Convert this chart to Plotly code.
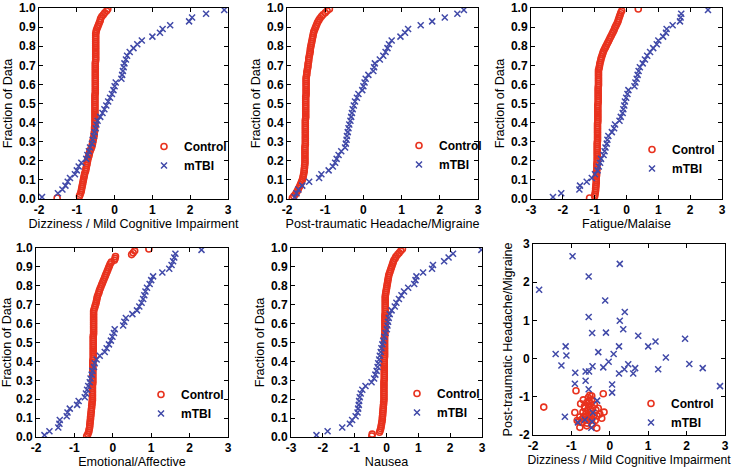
import plotly.graph_objects as go

W, H = 733, 471

# ---------------- data ----------------
x_ticks_a = [-2, -1, 0, 1, 2, 3]
x_ticks_b = [-3, -2, -1, 0, 1, 2, 3]
frac_ticks = [0.0, 0.1, 0.2, 0.3, 0.4, 0.5, 0.6, 0.7, 0.8, 0.9, 1.0]
scatter_y_ticks = [-2, -1, 0, 1, 2, 3]

axis_titles = ["Dizziness / Mild Cognitive Impairment", "Post-traumatic Headache/Migraine",
               "Fatigue/Malaise", "Emotional/Affective", "Nausea"]
y_title = "Fraction of Data"

diz_control = [-1.52, -0.93, -0.91, -0.89, -0.88, -0.87, -0.86, -0.85, -0.84, -0.83,
               -0.82, -0.81, -0.80, -0.79, -0.77, -0.76, -0.75, -0.74, -0.73, -0.72,
               -0.71, -0.70, -0.68, -0.67, -0.66, -0.64, -0.62, -0.60, -0.59, -0.58,
               -0.57, -0.56, -0.55, -0.54, -0.54, -0.53, -0.53, -0.53, -0.52, -0.52,
               -0.52, -0.52, -0.52, -0.52, -0.52, -0.52, -0.52, -0.52, -0.52, -0.52,
               -0.52, -0.52, -0.52, -0.52, -0.52, -0.51, -0.51, -0.51, -0.51, -0.51,
               -0.51, -0.51, -0.51, -0.51, -0.51, -0.51, -0.51, -0.51, -0.51, -0.51,
               -0.51, -0.51, -0.50, -0.50, -0.50, -0.50, -0.50, -0.50, -0.50, -0.50,
               -0.50, -0.50, -0.50, -0.50, -0.50, -0.50, -0.50, -0.49, -0.48, -0.46,
               -0.44, -0.42, -0.40, -0.38, -0.37, -0.34, -0.30, -0.26, -0.21, -0.18]
diz_mtbi = [-1.92, -1.50, -1.38, -1.30, -1.24, -1.18, -1.05, -1.00, -0.95, -0.88,
            -0.75, -0.72, -0.68, -0.65, -0.60, -0.58, -0.55, -0.53, -0.50, -0.48,
            -0.45, -0.38, -0.32, -0.27, -0.22, -0.17, -0.12, -0.07, -0.03, 0.00,
            0.03, 0.18, 0.20, 0.22, 0.24, 0.26, 0.30, 0.33, 0.40, 0.50,
            0.60, 0.72, 1.00, 1.20, 1.27, 1.47, 1.97, 2.05, 2.42, 2.90]

head_control = [-1.86, -1.82, -1.78, -1.75, -1.72, -1.70, -1.67, -1.65, -1.63, -1.61,
                -1.59, -1.58, -1.57, -1.56, -1.55, -1.55, -1.54, -1.54, -1.53, -1.53,
                -1.53, -1.53, -1.53, -1.53, -1.53, -1.53, -1.53, -1.53, -1.52, -1.52,
                -1.52, -1.52, -1.52, -1.52, -1.52, -1.52, -1.52, -1.52, -1.52, -1.52,
                -1.52, -1.52, -1.51, -1.51, -1.51, -1.51, -1.51, -1.51, -1.51, -1.51,
                -1.51, -1.51, -1.51, -1.51, -1.50, -1.50, -1.50, -1.50, -1.50, -1.50,
                -1.50, -1.50, -1.50, -1.50, -1.49, -1.48, -1.48, -1.47, -1.46, -1.45,
                -1.45, -1.44, -1.43, -1.43, -1.42, -1.41, -1.40, -1.39, -1.39, -1.38,
                -1.37, -1.36, -1.35, -1.34, -1.33, -1.32, -1.31, -1.30, -1.28, -1.26,
                -1.24, -1.22, -1.20, -1.17, -1.14, -1.10, -1.06, -1.00, -0.95, -0.89]
head_mtbi = [-1.80, -1.75, -1.70, -1.60, -1.42, -1.16, -1.10, -0.91, -0.80, -0.74,
             -0.70, -0.65, -0.58, -0.48, -0.46, -0.44, -0.43, -0.41, -0.39, -0.37,
             -0.34, -0.32, -0.30, -0.28, -0.25, -0.22, -0.17, -0.13, -0.03, 0.00,
             0.03, 0.06, 0.13, 0.26, 0.28, 0.30, 0.43, 0.52, 0.58, 0.63,
             0.67, 0.74, 0.97, 1.09, 1.17, 1.50, 1.80, 2.13, 2.46, 2.63]

fat_control = [-1.16, -1.00, -0.99, -0.98, -0.97, -0.97, -0.96, -0.96, -0.95, -0.95,
               -0.95, -0.95, -0.94, -0.94, -0.94, -0.93, -0.93, -0.93, -0.93, -0.92,
               -0.92, -0.92, -0.92, -0.92, -0.92, -0.92, -0.92, -0.92, -0.92, -0.92,
               -0.91, -0.91, -0.91, -0.91, -0.91, -0.91, -0.91, -0.91, -0.91, -0.91,
               -0.90, -0.90, -0.90, -0.90, -0.90, -0.90, -0.90, -0.90, -0.90, -0.90,
               -0.89, -0.89, -0.89, -0.89, -0.89, -0.89, -0.89, -0.89, -0.89, -0.88,
               -0.88, -0.88, -0.88, -0.88, -0.88, -0.88, -0.88, -0.88, -0.86, -0.85,
               -0.84, -0.83, -0.81, -0.80, -0.78, -0.76, -0.74, -0.72, -0.69, -0.66,
               -0.63, -0.60, -0.57, -0.54, -0.51, -0.48, -0.45, -0.42, -0.39, -0.37,
               -0.34, -0.31, -0.28, -0.26, -0.24, -0.22, -0.20, -0.18, -0.15, 0.37]
fat_mtbi = [-2.31, -2.05, -1.48, -1.46, -1.25, -1.09, -0.99, -0.91, -0.87, -0.83,
            -0.80, -0.72, -0.69, -0.66, -0.62, -0.60, -0.57, -0.46, -0.39, -0.36,
            -0.22, -0.18, -0.12, -0.10, -0.07, -0.05, -0.01, 0.03, 0.06, 0.25,
            0.28, 0.32, 0.35, 0.38, 0.42, 0.51, 0.58, 0.65, 0.74, 0.84,
            0.95, 1.00, 1.15, 1.24, 1.26, 1.45, 1.68, 1.70, 1.72, 2.56]

emo_control = [-0.68, -0.65, -0.63, -0.62, -0.61, -0.60, -0.60, -0.59, -0.59, -0.58,
               -0.58, -0.57, -0.57, -0.56, -0.56, -0.55, -0.55, -0.54, -0.54, -0.53,
               -0.53, -0.53, -0.53, -0.53, -0.53, -0.53, -0.53, -0.53, -0.52, -0.52,
               -0.52, -0.52, -0.52, -0.52, -0.52, -0.52, -0.52, -0.52, -0.52, -0.52,
               -0.52, -0.51, -0.51, -0.51, -0.51, -0.51, -0.51, -0.51, -0.51, -0.51,
               -0.51, -0.51, -0.51, -0.51, -0.50, -0.50, -0.50, -0.50, -0.50, -0.50,
               -0.50, -0.50, -0.50, -0.50, -0.50, -0.50, -0.50, -0.49, -0.47, -0.46,
               -0.44, -0.43, -0.42, -0.41, -0.40, -0.38, -0.36, -0.35, -0.33, -0.31,
               -0.29, -0.27, -0.25, -0.23, -0.21, -0.19, -0.17, -0.15, -0.13, -0.11,
               -0.09, -0.07, -0.04, 0.04, 0.06, 0.07, 0.49, 0.53, 0.57, 0.94]
emo_mtbi = [-1.78, -1.65, -1.42, -1.39, -1.38, -1.20, -1.18, -1.12, -0.93, -0.89,
            -0.73, -0.70, -0.67, -0.64, -0.60, -0.58, -0.55, -0.53, -0.49, -0.47,
            -0.42, -0.34, -0.21, -0.16, -0.10, -0.05, -0.01, 0.03, 0.05, 0.27,
            0.30, 0.34, 0.51, 0.63, 0.69, 0.75, 0.79, 0.82, 0.85, 0.89,
            0.96, 1.00, 1.05, 1.29, 1.47, 1.53, 1.57, 1.60, 1.63, 2.31]

nau_control = [-0.46, -0.45, -0.22, -0.20, -0.18, -0.17, -0.16, -0.15, -0.14, -0.13,
               -0.13, -0.12, -0.12, -0.11, -0.11, -0.10, -0.10, -0.09, -0.09, -0.08,
               -0.08, -0.08, -0.08, -0.08, -0.08, -0.08, -0.08, -0.08, -0.08, -0.08,
               -0.07, -0.07, -0.07, -0.07, -0.07, -0.07, -0.07, -0.07, -0.07, -0.07,
               -0.07, -0.07, -0.06, -0.06, -0.06, -0.06, -0.06, -0.06, -0.06, -0.06,
               -0.06, -0.06, -0.06, -0.06, -0.05, -0.05, -0.05, -0.05, -0.05, -0.05,
               -0.05, -0.05, -0.05, -0.05, -0.05, -0.04, -0.04, -0.04, -0.04, -0.04,
               -0.04, -0.04, -0.04, -0.04, -0.04, -0.03, -0.02, -0.01, 0.00, 0.01,
               0.02, 0.03, 0.04, 0.05, 0.06, 0.07, 0.09, 0.11, 0.13, 0.15,
               0.17, 0.19, 0.21, 0.23, 0.27, 0.30, 0.35, 0.40, 0.45, 0.50]
nau_mtbi = [-2.20, -1.85, -1.39, -1.15, -1.08, -0.97, -0.91, -0.89, -0.87, -0.86,
            -0.84, -0.81, -0.76, -0.66, -0.47, -0.39, -0.35, -0.31, -0.28, -0.26,
            -0.23, -0.21, -0.18, -0.16, -0.13, -0.10, -0.07, -0.03, 0.01, 0.03,
            0.05, 0.07, 0.10, 0.16, 0.26, 0.31, 0.39, 0.47, 0.55, 0.68,
            0.87, 0.91, 0.94, 1.15, 1.43, 1.46, 1.81, 1.95, 2.09, 2.98]

# scatter: dizziness (x) vs headache (y)
sc_mtbi_x = [-0.97, 0.26, -0.55, -1.84, -0.12, 0.39, -0.55, 0.26, 0.35, -0.46,
             -0.10, 0.74, 1.96, 1.19, -1.15, 0.24, 1.00, -1.41, -1.13, -0.30,
             0.10, -0.03, 1.46, -1.26, 0.48, 2.07, -0.17, -0.45, 2.42, 1.26,
             0.38, 0.66, 0.24, 0.61, -0.90, -0.63, -0.54, -0.91, -0.63, -0.55,
             0.06, 0.06, 2.87, -0.33, -0.44, -0.46, -0.65, -0.83, -1.17, -0.48]
sc_mtbi_y = [2.68, 2.48, 2.15, 1.80, 1.52, 1.22, 1.09, 0.99, 0.77, 0.67,
             0.68, 0.60, 0.52, 0.45, 0.32, 0.32, 0.32, 0.12, 0.08, 0.17,
             0.12, -0.08, 0.03, -0.18, -0.15, -0.14, -0.23, -0.20, -0.25, -0.28,
             -0.28, -0.25, -0.39, -0.39, -0.37, -0.34, -0.34, -0.66, -0.58, -0.80,
             -0.68, -0.89, -0.72, -1.10, -1.42, -1.65, -1.60, -1.67, -1.52, -1.81]
sc_ctrl_x = [-1.72, -0.88, -0.17, -0.52, -0.47, -0.69, -0.47, -0.56, -0.76, -0.60,
             -0.50, -0.40, -0.55, -0.45, -0.65, -0.30, -0.58, -0.48, -0.70, -0.15,
             -0.91, -0.62, -0.52, -0.42, -0.33, -0.78, -0.68, -0.56, -0.21, -0.47,
             -0.62, -0.85, -0.73, -0.59, -0.52, -0.38, -0.80, -0.78, -0.34, -0.60,
             -0.45, -0.66, -0.36, -0.26, -0.54, -0.72]
sc_ctrl_y = [-1.27, -0.84, -0.92, -0.96, -0.98, -1.08, -1.08, -1.02, -1.18, -1.15,
             -1.18, -1.20, -1.25, -1.28, -1.30, -1.30, -1.35, -1.38, -1.40, -1.40,
             -1.41, -1.44, -1.46, -1.48, -1.50, -1.53, -1.52, -1.55, -1.56, -1.58,
             -1.60, -1.62, -1.67, -1.69, -1.63, -1.62, -1.65, -1.80, -1.82, -1.76,
             -1.72, -1.25, -1.35, -1.45, -1.12, -1.58]

# ---------------- styling ----------------
RED = "#e8321e"
BLUE = "#4049a8"
FONT = "Liberation Sans, Arial, sans-serif"

# panel frames in pixels: (left, right, top, bottom)
frames = [(39, 228, 8, 199), (287, 478, 8, 199), (531, 722, 8, 199),
          (36, 228, 248, 437), (291, 482, 248, 437), (533, 725, 244, 435)]
legend_pos = [(144, 132), (399, 131), (632, 135), (141, 380), (397, 379), (631, 389)]
xtitle_size = [12.6, 12.6, 12.6, 12.6, 12.6, 12.2]


def ecdf(vals):
    s = sorted(vals)
    n = len(s)
    return s, [(k + 0.5) / n for k in range(n)]


fig = go.Figure()

ecdf_sets = [(diz_control, diz_mtbi), (head_control, head_mtbi), (fat_control, fat_mtbi),
             (emo_control, emo_mtbi), (nau_control, nau_mtbi)]


def add_pair(i, cx, cy, mx, my):
    sfx = "" if i == 1 else str(i)
    fig.add_trace(go.Scatter(x=cx, y=cy, mode="markers", name="Control",
                             xaxis="x" + sfx, yaxis="y" + sfx, legend="legend" + sfx,
                             marker=dict(symbol="circle-open", size=6, color=RED,
                                         line=dict(color=RED, width=1.6))))
    fig.add_trace(go.Scatter(x=mx, y=my, mode="markers", name="mTBI",
                             xaxis="x" + sfx, yaxis="y" + sfx, legend="legend" + sfx,
                             marker=dict(symbol="x-thin-open", size=6, color=BLUE,
                                         line=dict(color=BLUE, width=1.5))))


for i, (c, m) in enumerate(ecdf_sets, start=1):
    cx, cy = ecdf(c)
    mx, my = ecdf(m)
    add_pair(i, cx, cy, mx, my)

add_pair(6, sc_ctrl_x, sc_ctrl_y, sc_mtbi_x, sc_mtbi_y)

layout = dict(width=W, height=H, margin=dict(l=0, r=0, t=0, b=0),
              paper_bgcolor="white", plot_bgcolor="white",
              font=dict(family=FONT, size=12, color="black"))

tickfont = dict(family=FONT, size=12, color="black", weight="bold")

for i in range(1, 7):
    sfx = "" if i == 1 else str(i)
    l, r, t, b = frames[i - 1]
    xt = x_ticks_b if i in (3, 5) else x_ticks_a
    common = dict(showline=True, linecolor="black", linewidth=1, mirror="ticks",
                  ticks="inside", ticklen=4, tickwidth=1, tickcolor="black",
                  showgrid=False, zeroline=False, automargin=False,
                  tickfont=tickfont)
    layout["xaxis" + sfx] = dict(
        common, domain=[l / W, r / W], range=[xt[0], xt[-1]], anchor="y" + sfx,
        tickmode="array", tickvals=xt, ticktext=[str(v) for v in xt],
        title=dict(text=axis_titles[0] if i == 6 else axis_titles[i - 1],
                   font=dict(family=FONT, size=xtitle_size[i - 1], color="black"),
                   standoff=0))
    if i == 6:
        yt = scatter_y_ticks
        ytxt = [str(v) for v in yt]
        ytitle = axis_titles[1]
    else:
        yt = frac_ticks
        ytxt = ["%.1f" % v for v in yt]
        ytitle = y_title
    layout["yaxis" + sfx] = dict(
        common, domain=[1 - b / H, 1 - t / H], range=[yt[0], yt[-1]], anchor="x" + sfx,
        tickmode="array", tickvals=yt, ticktext=ytxt,
        title=dict(text=ytitle, font=dict(family=FONT, size=12.6, color="black"),
                   standoff=3))
    lx, ly = legend_pos[i - 1]
    layout["legend" + sfx] = dict(x=lx / W, y=1 - ly / H, xanchor="left", yanchor="top",
                                  bgcolor="rgba(0,0,0,0)", borderwidth=0,
                                  font=dict(family=FONT, size=12, color="black", weight="bold"),
                                  tracegroupgap=0)

fig.update_layout(**layout)
fig.write_html("out.html", config={"displayModeBar": False},
               post_script="document.body.style.margin='0px';document.body.style.overflow='hidden';")
